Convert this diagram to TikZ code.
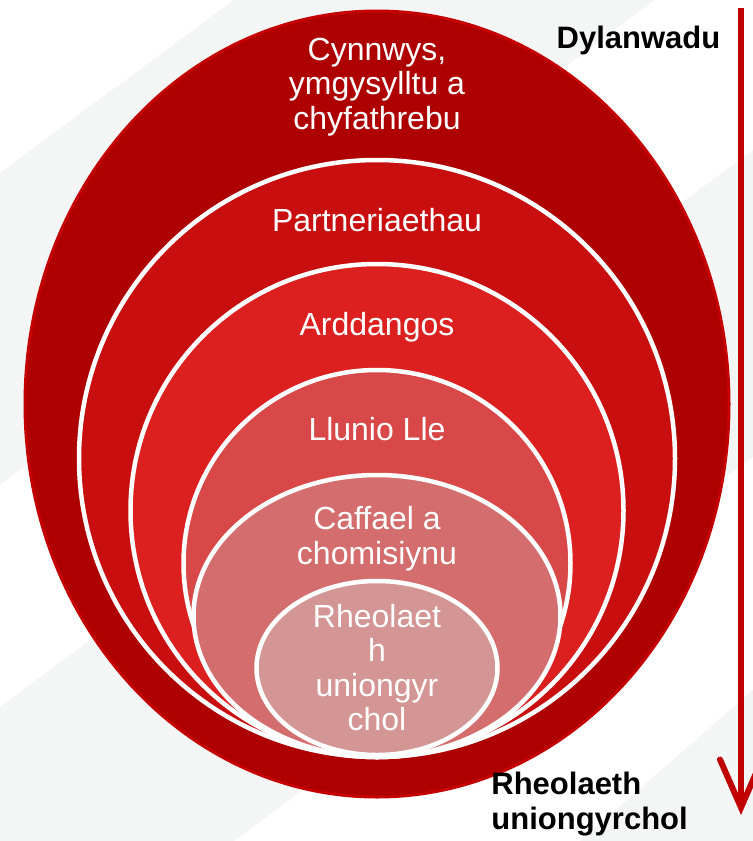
\documentclass[tikz,border=0pt]{standalone}
\usepackage{fontspec}
\setmainfont{Liberation Sans}
\usepackage{tikz}
\usetikzlibrary{arrows.meta}
\definecolor{bandgray}{RGB}{244,246,246}
\definecolor{ringedge}{RGB}{196,0,0}
\definecolor{ringA}{RGB}{175,0,0}
\definecolor{ringB}{RGB}{200,14,14}
\definecolor{ringC}{RGB}{220,31,31}
\definecolor{ringD}{RGB}{216,72,72}
\definecolor{ringE}{RGB}{212,110,110}
\definecolor{ringF}{RGB}{212,149,149}
\definecolor{arrowred}{RGB}{192,0,0}

\begin{document}
\begin{tikzpicture}[x=0.5pt, y=-0.5pt,
    ring/.style={draw=white, line width=2.25pt},
    lbl/.style={text=white, align=center, inner sep=0pt, font=\fontsize{16}{17.2}\selectfont},
    side/.style={text=black, inner sep=0pt, font=\fontsize{15.5}{17.5}\selectfont\bfseries}]
        \useasboundingbox (0,0) rectangle (753,841);
        \fill[white] (0,0) rectangle (753,841);
        % faint diagonal bands behind
        \fill[bandgray] (0,173) -- (234,0) -- (655,0) -- (0,485) -- cycle;
        \fill[bandgray] (0,707) -- (753,150) -- (753,457) -- (234,841) -- (0,841) -- cycle;
        \fill[bandgray] (580,841) -- (753,690) -- (753,841) -- cycle;
        % nested rings
        \draw[line width=1.5pt, draw=ringedge, fill=ringA] (377,404) ellipse [x radius=352, y radius=393];
        \draw[ring, fill=ringB] (377,458.5) ellipse [x radius=298, y radius=298.5];
        \draw[ring, fill=ringC] (377,510.5) ellipse [x radius=246.5, y radius=246.5];
        \draw[ring, fill=ringD] (377,563.5) ellipse [x radius=193.5, y radius=193.5];
        \draw[ring, fill=ringE] (377,616) ellipse [x radius=183.5, y radius=141];
        \draw[ring, fill=ringF] (377,668) ellipse [x radius=120.5, y radius=87];
        \node[lbl] (content) at (377,86.9) {Cynnwys,\\ymgysylltu a\\chyfathrebu};
        \node[lbl] (partner) at (377,220.3) {Partneriaethau};
        \node[lbl] (demo) at (377,327) {Arddangos};
        \node[lbl] (place) at (377,429.3) {Llunio Lle};
        \node[lbl] (procure) at (377,538.6) {Caffael a\\chomisiynu};
        \node[lbl] (direct) at (377,667.5) {Rheolaet\\h\\uniongyr\\chol};
        \node[side] (influence) at (638.5,40) {Dylanwadu};
        \node[side, anchor=west, align=left] (control) at (491,804.5) {Rheolaeth\\uniongyrchol};
        \coordinate (arrowtop) at (741,8);
        \coordinate (arrowtip) at (741,815);
        \draw[line width=3pt, arrowred, -{Straight Barb[length=24pt, width=21pt, line cap=round]}] (arrowtop) -- (arrowtip);
      \end{tikzpicture}
\end{document}
